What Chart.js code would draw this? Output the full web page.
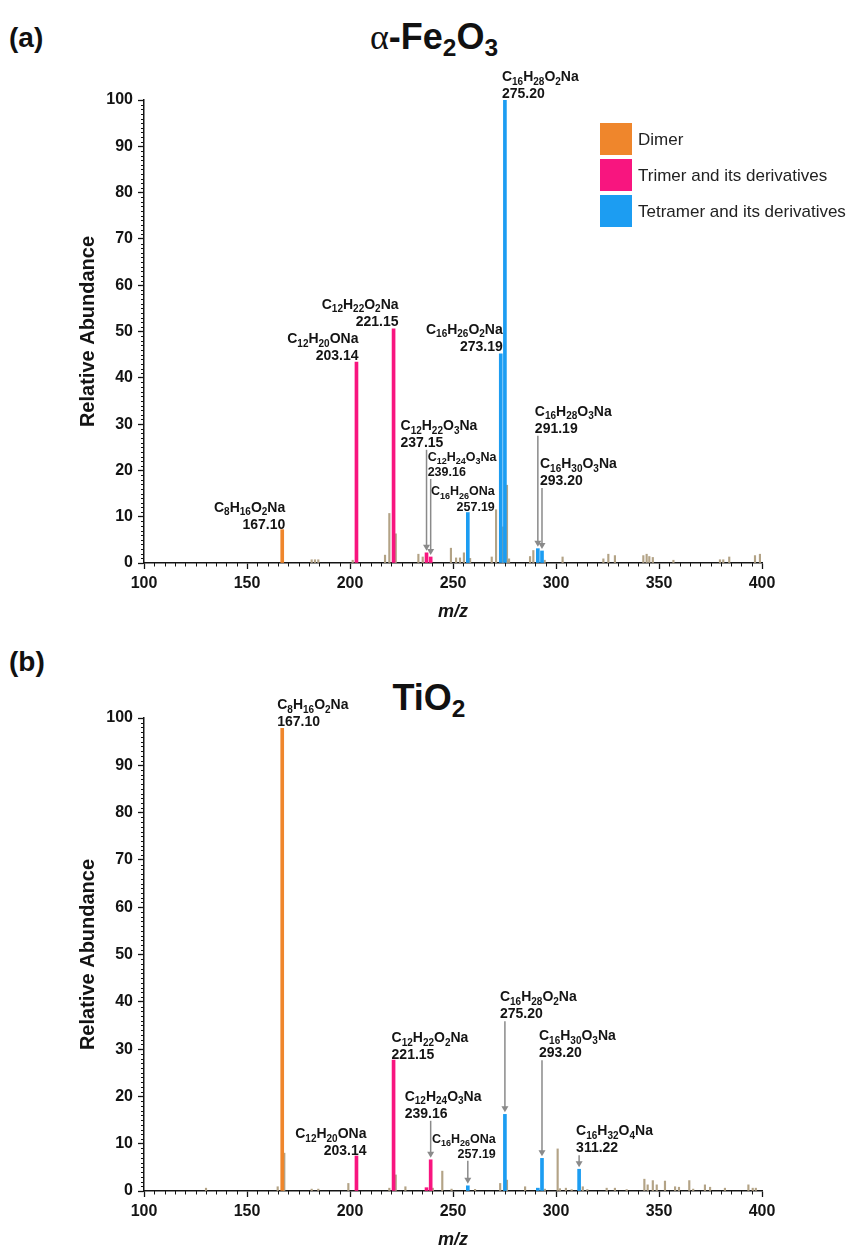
<!DOCTYPE html>
<html>
<head>
<meta charset="utf-8">
<title>MS spectra</title>
<script src="https://cdn.jsdelivr.net/npm/chart.js@4.4.0/dist/chart.umd.min.js"></script>
<style>
  html, body { margin: 0; padding: 0; background: #fff; }
  body { position: relative; width: 860px; height: 1251px; overflow: hidden;
         font-family: "Liberation Sans", Arial, sans-serif; color: #111; }
  canvas { position: absolute; left: 0; }
  .tag { position: absolute; left: 9px; font-weight: bold; font-size: 28px; line-height: 28px; }
  .ttl { position: absolute; width: 860px; left: 0; text-align: center; font-weight: bold;
         font-size: 36px; line-height: 36px; }
  .ttl sub { font-size: 0.68em; vertical-align: -0.28em; line-height: 0; }
  .ttl .greek { font-family: "Liberation Serif", "DejaVu Serif", serif; font-weight: normal; }
</style>
</head>
<body>
<div class="tag" style="top:24px">(a)</div>
<div class="ttl" style="top:19px; left:4px"><span class="greek">α</span>-Fe<sub>2</sub>O<sub>3</sub></div>
<canvas id="chartA" width="860" height="630" style="top:0"></canvas>

<div class="tag" style="top:648px">(b)</div>
<div class="ttl" style="top:680px; left:-1px">TiO<sub>2</sub></div>
<canvas id="chartB" width="860" height="621" style="top:630px"></canvas>

<script>
/* ── data: (a) α-Fe2O3 ─────────────────────────── */
const feDimerMz     = [167.10];
const feDimerVal    = [7.2];
const feTrimerMz    = [203.14, 221.15, 237.15, 239.16];
const feTrimerVal   = [43.4, 50.6, 2.2, 1.3];
const feTetramerMz  = [257.19, 273.19, 275.20, 291.19, 293.20];
const feTetramerVal = [10.9, 45.2, 100, 3.1, 2.6];
const feOtherMz  = [181.4, 183.0, 184.6, 201.3, 217.0, 219.1, 222.2, 233.2, 235.3, 249.0,
                    251.5, 253.4, 255.3, 258.3, 268.8, 270.9, 274.2, 276.2, 277.2, 287.4,
                    289.0, 294.5, 303.2, 323.0, 325.4, 328.6, 342.4, 344.0, 345.3, 347.0,
                    357.0, 379.6, 381.2, 384.1, 396.6, 399.0];
const feOtherVal = [0.7, 0.7, 0.7, 0.6, 1.7, 10.7, 6.3, 1.9, 1.3, 3.2,
                    1.1, 1.1, 2.2, 1.0, 1.3, 11.5, 7.8, 16.8, 0.9, 1.4,
                    2.7, 0.6, 1.3, 0.9, 1.9, 1.6, 1.6, 1.9, 1.4, 1.2,
                    0.6, 0.7, 0.7, 1.3, 1.6, 1.9];
const feLabels = [
  ['C8H16O2Na', '167.10'], ['C12H20ONa', '203.14'], ['C12H22O2Na', '221.15'],
  ['C12H22O3Na', '237.15'], ['C12H24O3Na', '239.16'], ['C16H26ONa', '257.19'],
  ['C16H26O2Na', '273.19'], ['C16H28O2Na', '275.20'], ['C16H28O3Na', '291.19'],
  ['C16H30O3Na', '293.20']
];

/* ── data: (b) TiO2 ────────────────────────────── */
const tiDimerMz     = [167.10];
const tiDimerVal    = [100];
const tiTrimerMz    = [203.14, 221.15, 237.15, 239.16];
const tiTrimerVal   = [7.4, 27.7, 0.7, 6.6];
const tiTetramerMz  = [257.19, 275.20, 291.19, 293.20, 311.22];
const tiTetramerVal = [1.1, 16.2, 0.6, 6.9, 4.6];
const tiOtherMz  = [130.1, 164.9, 168.1, 181.4, 184.6, 199.2, 219.1, 222.2, 226.9, 240.2,
                    244.8, 249.3, 260.7, 272.9, 276.2, 285.0, 294.6, 300.8, 301.9, 304.8,
                    307.6, 313.0, 315.2, 324.6, 328.6, 334.3, 342.9, 344.5, 347.0, 348.9,
                    352.9, 357.8, 359.7, 364.7, 366.6, 372.3, 374.8, 382.0, 393.4, 395.5, 397.0];
const tiOtherVal = [0.6, 0.9, 8.0, 0.4, 0.4, 1.6, 0.6, 3.4, 0.9, 0.6,
                    4.2, 0.4, 0.35, 1.6, 2.3, 0.9, 0.4, 8.9, 0.5, 0.6,
                    0.3, 0.9, 0.3, 0.6, 0.6, 0.3, 2.5, 1.3, 2.2, 1.3,
                    2.1, 0.9, 0.8, 2.2, 0.4, 1.3, 0.8, 0.6, 1.3, 0.6, 0.6];
const tiLabels = [
  ['C8H16O2Na', '167.10'], ['C12H20ONa', '203.14'], ['C12H22O2Na', '221.15'],
  ['C12H24O3Na', '239.16'], ['C16H26ONa', '257.19'], ['C16H28O2Na', '275.20'],
  ['C16H30O3Na', '293.20'], ['C16H32O4Na', '311.22']
];

const groupNames = ['Dimer', 'Trimer and its derivatives', 'Tetramer and its derivatives'];
const mzRange = [100, 400];
const abundanceRange = [0, 100];

/* ── label placement (px offsets from the peak top) ── */
const feLabelPos = [
  {align: 'right', dx: 3,   dy: -1},
  {align: 'right', dx: 2,   dy: -2},
  {align: 'right', dx: 5,   dy: -3},
  {align: 'left',  dx: -26, dy: -106, arrow: true},
  {align: 'left',  dx: -3,  dy: -81,  arrow: true, size: 12.5},
  {align: 'right', dx: 27,  dy: -2,   size: 12.5},
  {align: 'right', dx: 2,   dy: -3},
  {align: 'left',  dx: -3,  dy: -2},
  {align: 'left',  dx: -3,  dy: -116, arrow: true},
  {align: 'left',  dx: -2,  dy: -66,  arrow: true}
];
const tiLabelPos = [
  {align: 'left',  dx: -5,  dy: 8, bg: true},
  {align: 'right', dx: 10,  dy: -1},
  {align: 'left',  dx: -2,  dy: -1},
  {align: 'left',  dx: -26, dy: -42,  arrow: true},
  {align: 'right', dx: 28,  dy: -28,  arrow: true, size: 12.5},
  {align: 'left',  dx: -5,  dy: -96,  arrow: true},
  {align: 'left',  dx: -3,  dy: -101, arrow: true},
  {align: 'left',  dx: -3,  dy: -17,  arrow: true}
];

const FONT = '"Liberation Sans", Arial, sans-serif';
const COLORS = { dimer: '#EF862C', trimer: '#F8157F', tetramer: '#1C9DF2', other: '#B3A386' };
const INK = '#141414';

function pts(mz, val) { return mz.map((m, i) => ({x: m, y: val[i]})); }

function datasets(d) {
  return [
    {label: groupNames[0], data: pts(d.dimerMz, d.dimerVal), backgroundColor: COLORS.dimer, barThickness: 3, grouped: false, inLegend: true},
    {label: groupNames[1], data: pts(d.trimerMz, d.trimerVal), backgroundColor: COLORS.trimer, barThickness: 3, grouped: false, inLegend: true},
    {label: groupNames[2], data: pts(d.tetraMz, d.tetraVal), backgroundColor: COLORS.tetramer, barThickness: 3, grouped: false, inLegend: true},
    {label: 'other', data: pts(d.otherMz, d.otherVal), backgroundColor: COLORS.other, barThickness: 1.5, grouped: false}
  ];
}

/* ── formula with subscript digits ─────────────── */
function drawFormula(ctx, text, x, y, size, align) {
  const big = `bold ${size}px ${FONT}`;
  const small = `bold ${Math.round(size * 0.72)}px ${FONT}`;
  const parts = text.match(/\d+|\D+/g).map(r => {
    const sub = /\d/.test(r);
    ctx.font = sub ? small : big;
    return {r, sub, w: ctx.measureText(r).width};
  });
  const total = parts.reduce((s, p) => s + p.w, 0);
  let cx = align === 'right' ? x - total : x;
  ctx.textAlign = 'left';
  parts.forEach(p => {
    ctx.font = p.sub ? small : big;
    ctx.fillText(p.r, cx, p.sub ? y + size * 0.27 : y);
    cx += p.w;
  });
  return total;
}

function peakValue(chart, mz) {
  for (const ds of chart.data.datasets) {
    const p = ds.data.find(q => Math.abs(q.x - mz) < 0.001);
    if (p) return p.y;
  }
  return 0;
}

function peakLabels(texts, layout) {
  return {
    id: 'peakLabels',
    afterDatasetsDraw(chart) {
      const {ctx, scales: {x, y}} = chart;
      ctx.save();
      ctx.textBaseline = 'alphabetic';
      texts.forEach(([formula, mass], i) => {
        const L = layout[i];
        const mz = parseFloat(mass);
        const px = x.getPixelForValue(mz);
        const py = y.getPixelForValue(peakValue(chart, mz));
        const size = L.size || 14;
        const ax = px + L.dx, base = py + L.dy, top = base - size * 1.22;
        if (L.bg) {
          ctx.font = `bold ${size}px ${FONT}`;
          const w = ctx.measureText(mass).width;
          ctx.fillStyle = '#fff';
          ctx.fillRect(L.align === 'right' ? ax - w : ax, base - size, w + 2, size + 2);
        }
        ctx.fillStyle = INK;
        drawFormula(ctx, formula, ax, top, size, L.align);
        ctx.font = `bold ${size}px ${FONT}`;
        ctx.textAlign = L.align;
        ctx.fillText(mass, ax, base);
        if (L.arrow) {
          const tip = py - 2;
          ctx.strokeStyle = '#8a8a8a';
          ctx.fillStyle = '#8a8a8a';
          ctx.lineWidth = 1.5;
          ctx.beginPath();
          ctx.moveTo(px, base + 3);
          ctx.lineTo(px, tip - 5);
          ctx.stroke();
          ctx.beginPath();
          ctx.moveTo(px - 3.5, tip - 6);
          ctx.lineTo(px + 3.5, tip - 6);
          ctx.lineTo(px, tip);
          ctx.closePath();
          ctx.fill();
        }
      });
      ctx.restore();
    }
  };
}

/* ── minor ticks on both axes ──────────────────── */
const minorTicks = {
  id: 'minorTicks',
  afterDraw(chart) {
    const {ctx, chartArea: a, scales: {x, y}} = chart;
    ctx.save();
    ctx.strokeStyle = INK;
    ctx.lineWidth = 1;
    ctx.beginPath();
    for (let v = x.min; v <= x.max; v += 5) {
      if (v % 50 === 0) continue;
      const p = Math.round(x.getPixelForValue(v)) + 0.5;
      ctx.moveTo(p, a.bottom);
      ctx.lineTo(p, a.bottom + 3.5);
    }
    for (let v = y.min; v <= y.max; v += 1) {
      if (v % 10 === 0) continue;
      const p = Math.round(y.getPixelForValue(v)) + 0.5;
      ctx.moveTo(a.left, p);
      ctx.lineTo(a.left - 3, p);
    }
    ctx.stroke();
    ctx.restore();
  }
};

/* ── legend with big squares ───────────────────── */
const boxLegend = {
  id: 'boxLegend',
  afterDraw(chart) {
    const {ctx} = chart;
    ctx.save();
    ctx.font = `17px ${FONT}`;
    ctx.textAlign = 'left';
    ctx.textBaseline = 'middle';
    chart.data.datasets.filter(d => d.inLegend).forEach((d, i) => {
      const top = 123 + i * 36;
      ctx.fillStyle = d.backgroundColor;
      ctx.fillRect(600, top, 32, 32);
      ctx.fillStyle = '#222';
      ctx.fillText(d.label, 638, top + 17);
    });
    ctx.restore();
  }
};

function makeChart(id, d, opts) {
  const tickFont = {family: FONT, size: 16, weight: 'bold'};
  return new Chart(document.getElementById(id), {
    type: 'bar',
    data: {datasets: datasets(d)},
    options: {
      responsive: false,
      animation: false,
      devicePixelRatio: 1,
      layout: {padding: {top: opts.top, right: 98, bottom: 0, left: 0}},
      plugins: {legend: {display: false}, tooltip: {enabled: false}},
      scales: {
        x: {
          type: 'linear', min: mzRange[0], max: mzRange[1], offset: false,
          ticks: {stepSize: 50, padding: 5, color: INK, font: tickFont, maxRotation: 0},
          grid: {display: true, offset: false, drawOnChartArea: false, tickLength: 6, tickColor: INK, tickWidth: 1.3},
          border: {color: INK, width: 1.5},
          title: {display: true, text: 'm/z', color: INK,
                  font: {family: FONT, size: 18, weight: 'bold', style: 'italic'},
                  padding: {top: 0, bottom: opts.titlePad}},
          afterFit: s => { s.height = opts.xh; }
        },
        y: {
          min: abundanceRange[0], max: abundanceRange[1],
          ticks: {stepSize: 10, padding: 5, color: INK, font: tickFont},
          grid: {display: true, drawOnChartArea: false, tickLength: 6, tickColor: INK, tickWidth: 1.3},
          border: {color: INK, width: 1.5},
          title: {display: true, text: 'Relative Abundance', color: INK,
                  font: {family: FONT, size: 20, weight: 'bold'},
                  padding: {top: 76, bottom: 0}},
          afterFit: s => { s.width = 144; }
        }
      }
    },
    plugins: opts.plugins
  });
}

makeChart('chartA', {
  dimerMz: feDimerMz, dimerVal: feDimerVal, trimerMz: feTrimerMz, trimerVal: feTrimerVal,
  tetraMz: feTetramerMz, tetraVal: feTetramerVal, otherMz: feOtherMz, otherVal: feOtherVal
}, {top: 100, xh: 67, titlePad: 7, plugins: [minorTicks, peakLabels(feLabels, feLabelPos), boxLegend]});

makeChart('chartB', {
  dimerMz: tiDimerMz, dimerVal: tiDimerVal, trimerMz: tiTrimerMz, trimerVal: tiTrimerVal,
  tetraMz: tiTetramerMz, tetraVal: tiTetramerVal, otherMz: tiOtherMz, otherVal: tiOtherVal
}, {top: 88, xh: 60, titlePad: 0, plugins: [minorTicks, peakLabels(tiLabels, tiLabelPos)]});
</script>
</body>
</html>
